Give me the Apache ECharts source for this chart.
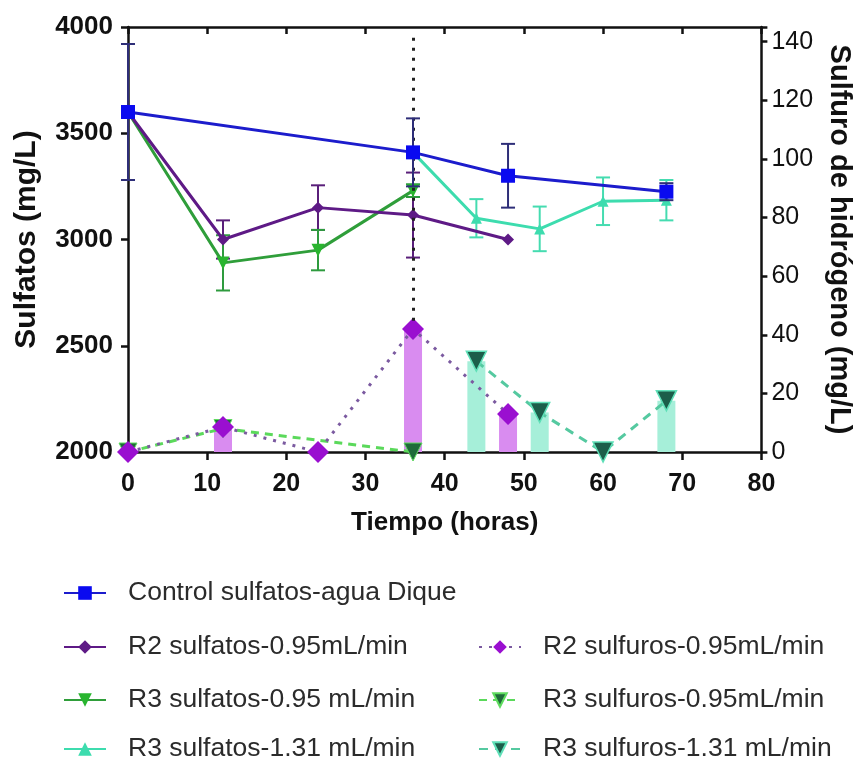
<!DOCTYPE html>
<html><head><meta charset="utf-8">
<script src="https://cdn.jsdelivr.net/npm/echarts@6/dist/echarts.min.js"></script>
<style>html,body{margin:0;padding:0;background:#fff}#c{width:861px;height:764px}</style>
</head><body><div id="c"></div>
<script>
// ---- data ----
const rightMaxLabel = 140;

const ctrlX = [0, 36, 48, 68];
const ctrlY = [3600, 3410, 3300, 3225];
const ctrlSD = [320, 160, 150, 40];

const r2sX = [0, 12, 24, 36, 48];
const r2sY = [3600, 3000, 3150, 3115, 3000];
const r2sSD = [0, 90, 105, 200, 0];

const r3aX = [0, 12, 24, 36];
const r3aY = [3600, 2890, 2950, 3230];
const r3aSD = [0, 130, 95, 30];

const r3bX = [36, 44, 52, 60, 68];
const r3bY = [3410, 3100, 3050, 3180, 3185];
const r3bSD = [0, 90, 105, 112, 95];

const r2hX = [0, 12, 24, 36, 48];
const r2hY = [0, 8.5, 0, 42, 13];

const r3ahX = [0, 12, 36];
const r3ahY = [0, 8, 0];

const r3bhX = [44, 52, 60, 68];
const r3bhY = [31, 13.5, 0, 17.5];

const markX = 36;
const markFrom = 3950, markTo = 2600;

const names = ['Control sulfatos-agua Dique', 'R2 sulfatos-0.95mL/min', 'R3 sulfatos-0.95 mL/min',
  'R3 sulfatos-1.31 mL/min', 'R2 sulfuros-0.95mL/min', 'R3 sulfuros-0.95mL/min', 'R3 sulfuros-1.31 mL/min'];

// ---- helpers ----
const pairs = (xs, ys) => xs.map((x, i) => [x, ys[i]]);
function errSeries(xs, ys, sds, color, z) {
  const data = [];
  xs.forEach((x, i) => { if (sds[i] > 0) data.push([x, ys[i] - sds[i], ys[i] + sds[i]]); });
  return {
    type: 'custom', xAxisIndex: 0, yAxisIndex: 0, z, silent: true, data,
    renderItem(params, api) {
      const x = api.value(0);
      const lo = api.coord([x, api.value(1)]);
      const hi = api.coord([x, api.value(2)]);
      const w = 7;
      const st = { stroke: color, lineWidth: 2, fill: null };
      return { type: 'group', children: [
        { type: 'line', shape: { x1: lo[0], y1: lo[1], x2: hi[0], y2: hi[1] }, style: st },
        { type: 'line', shape: { x1: lo[0] - w, y1: lo[1], x2: lo[0] + w, y2: lo[1] }, style: st },
        { type: 'line', shape: { x1: hi[0] - w, y1: hi[1], x2: hi[0] + w, y2: hi[1] }, style: st }
      ]};
    }
  };
}
const FONT = 'Liberation Sans, Arial, sans-serif';
function lg(name, left, rowY) {
  return { data: [name], left, top: rowY - 14, padding: 0, itemWidth: 42, itemHeight: 17,
    selectedMode: false,
    textStyle: { fontSize: 26.5, color: '#2b2b2b', fontFamily: FONT, lineHeight: 28, padding: [0, 0, 0, 17] } };
}
const rows = [593, 647, 700, 749];

const axisLine = { show: true, onZero: false, lineStyle: { color: '#111', width: 2.5 } };
const plain = v => String(v);

const option = {
  animation: false,
  backgroundColor: '#fff',
  grid: { left: 128, right: 93, top: 27, bottom: 312 },
  legend: [
    lg(names[0], 63, rows[0]), lg(names[1], 63, rows[1]), lg(names[2], 63, rows[2]), lg(names[3], 63, rows[3]),
    lg(names[4], 478, rows[1]), lg(names[5], 478, rows[2]), lg(names[6], 478, rows[3])
  ],
  xAxis: [
    { type: 'value', min: 0, max: 80, interval: 10, position: 'bottom',
      axisLine, splitLine: { show: false },
      axisTick: { show: true, inside: false, length: 8, lineStyle: { color: '#111', width: 2.5 } },
      axisLabel: { fontSize: 25, fontWeight: 'bold', color: '#111', margin: 20, fontFamily: FONT, formatter: plain },
      name: 'Tiempo (horas)', nameLocation: 'middle', nameGap: 58,
      nameTextStyle: { fontSize: 26, fontWeight: 'bold', color: '#111', fontFamily: FONT } },
    { type: 'value', min: 0, max: 80, interval: 10, position: 'top',
      axisLine, splitLine: { show: false },
      axisTick: { show: true, inside: true, length: 7, lineStyle: { color: '#111', width: 2.5 } },
      axisLabel: { show: false } }
  ],
  yAxis: [
    { type: 'value', min: 2000, max: 4000, interval: 500, position: 'left',
      axisLine, splitLine: { show: false },
      axisTick: { show: true, inside: false, length: 7, lineStyle: { color: '#111', width: 2.5 } },
      axisLabel: { fontSize: 26, fontWeight: 'bold', color: '#111', margin: 15, fontFamily: FONT, formatter: plain },
      name: 'Sulfatos (mg/L)', nameLocation: 'middle', nameGap: 86, nameRotate: 90,
      nameTextStyle: { fontSize: 30, fontWeight: 'bold', color: '#111', fontFamily: FONT } },
    { type: 'value', min: 0, max: 145, interval: 20, position: 'right',
      axisLine, splitLine: { show: false },
      axisTick: { show: true, inside: false, length: 6, lineStyle: { color: '#111', width: 2.5 } },
      axisLabel: { fontSize: 25, color: '#111', margin: 10, fontFamily: FONT,
        formatter: v => (v > rightMaxLabel ? '' : String(v)) },
      name: 'Sulfuro de hidrógeno (mg/L)', nameLocation: 'middle', nameGap: 58, nameRotate: -90,
      nameTextStyle: { fontSize: 29, fontWeight: 'bold', color: '#111', fontFamily: FONT } }
  ],
  series: [
    // bars (drop bars for sulfuros)
    { type: 'bar', xAxisIndex: 0, yAxisIndex: 1, barWidth: 18, barGap: '-100%', z: 1, silent: true,
      itemStyle: { color: '#d98cf0' }, data: pairs(r2hX, r2hY) },
    { type: 'bar', xAxisIndex: 0, yAxisIndex: 1, barWidth: 18, barGap: '-100%', z: 1, silent: true,
      itemStyle: { color: '#a6efd9' }, data: pairs(r3bhX, r3bhY) },
    // sulfuros lines
    { name: names[4], type: 'line', xAxisIndex: 0, yAxisIndex: 1, z: 3,
      symbol: 'diamond', symbolSize: 22,
      itemStyle: { color: '#9a0fd0' }, lineStyle: { color: '#7b5aa0', width: 3, type: [3, 7] },
      data: pairs(r2hX, r2hY) },
    { name: names[5], type: 'line', xAxisIndex: 0, yAxisIndex: 1, z: 2,
      symbol: 'triangle', symbolRotate: 180, symbolSize: 18,
      itemStyle: { color: '#1f6b3a', borderColor: '#5fdc5f', borderWidth: 1 },
      lineStyle: { color: '#5bd95b', width: 3, type: [8, 6] },
      data: pairs(r3ahX, r3ahY) },
    { name: names[6], type: 'line', xAxisIndex: 0, yAxisIndex: 1, z: 3,
      symbol: 'triangle', symbolRotate: 180, symbolSize: 20,
      itemStyle: { color: '#1c5e4a', borderColor: '#5fe0b8', borderWidth: 1.5 },
      lineStyle: { color: '#55c9a0', width: 3, type: [9, 7] },
      data: pairs(r3bhX, r3bhY) },
    // error bars
    errSeries(r2sX, r2sY, r2sSD, '#5a1f7a', 4),
    errSeries(r3aX, r3aY, r3aSD, '#2e9b3e', 4),
    errSeries(r3bX, r3bY, r3bSD, '#45dcb0', 4),
    errSeries(ctrlX, ctrlY, ctrlSD, '#2e2e78', 5),
    // sulfatos lines
    { name: names[3], type: 'line', xAxisIndex: 0, yAxisIndex: 0, z: 4,
      symbol: 'triangle', symbolSize: 11,
      itemStyle: { color: '#3ddcae' }, lineStyle: { color: '#3ddcae', width: 3 },
      data: pairs(r3bX, r3bY) },
    { name: names[2], type: 'line', xAxisIndex: 0, yAxisIndex: 0, z: 4,
      symbol: 'triangle', symbolRotate: 180, symbolSize: 13,
      itemStyle: { color: '#29b52f' }, lineStyle: { color: '#2f9e3a', width: 3 },
      data: pairs(r3aX, r3aY) },
    { name: names[1], type: 'line', xAxisIndex: 0, yAxisIndex: 0, z: 4,
      symbol: 'diamond', symbolSize: 12,
      itemStyle: { color: '#5e1a86' }, lineStyle: { color: '#5e1a86', width: 3 },
      data: pairs(r2sX, r2sY) },
    { name: names[0], type: 'line', xAxisIndex: 0, yAxisIndex: 0, z: 5,
      symbol: 'rect', symbolSize: 14,
      itemStyle: { color: '#0a0af0' }, lineStyle: { color: '#1c1ccc', width: 3 },
      data: pairs(ctrlX, ctrlY),
      markLine: { silent: true, symbol: 'none', label: { show: false },
        lineStyle: { color: '#222', width: 3, type: [3, 7] },
        data: [[{ coord: [markX, markFrom] }, { coord: [markX, markTo] }]] } }
  ]
};
const chart = echarts.init(document.getElementById('c'));
chart.setOption(option);
</script>
</body></html>
